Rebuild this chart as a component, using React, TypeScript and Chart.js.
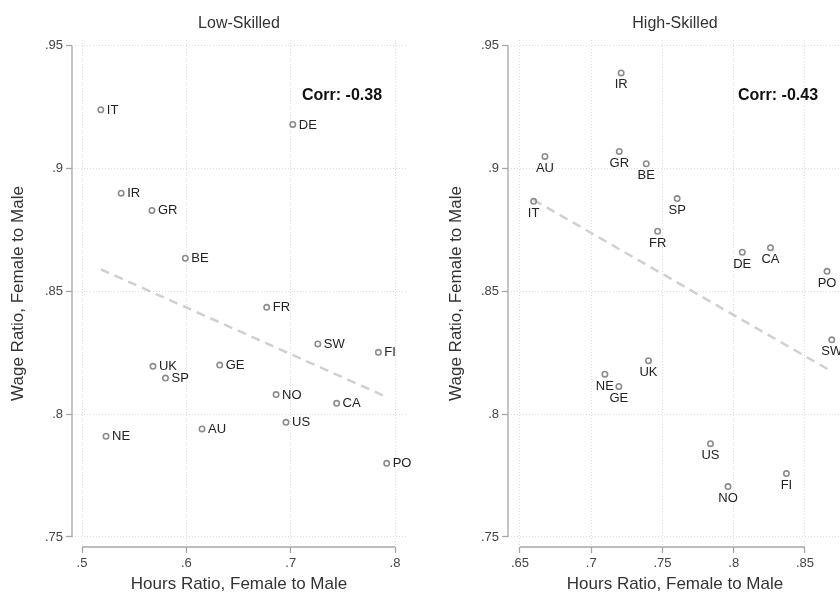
import React, { useEffect, useRef } from 'react';
import { Chart, registerables } from 'chart.js';

Chart.register(...registerables);

// ---------- data ----------
const lowCountries = ['IT', 'DE', 'IR', 'GR', 'BE', 'FR', 'SW', 'FI', 'UK', 'GE', 'SP', 'NO', 'CA', 'US', 'AU', 'NE', 'PO'];
const lowHours = [0.518, 0.702, 0.5375, 0.567, 0.599, 0.677, 0.726, 0.784, 0.568, 0.632, 0.58, 0.686, 0.744, 0.6955, 0.615, 0.523, 0.792];
const lowWage = [0.924, 0.918, 0.89, 0.883, 0.8635, 0.8435, 0.8286, 0.8252, 0.8195, 0.82, 0.8147, 0.808, 0.8044, 0.7967, 0.794, 0.791, 0.78];
const lowFitHours = [0.518, 0.792];
const lowFitWage = [0.859, 0.807];
const lowCorr = 'Corr: -0.38';

const highCountries = ['IR', 'AU', 'GR', 'BE', 'IT', 'SP', 'FR', 'DE', 'CA', 'PO', 'SW', 'UK', 'NE', 'GE', 'US', 'NO', 'FI'];
const highHours = [0.721, 0.6675, 0.7197, 0.7386, 0.6596, 0.7603, 0.7466, 0.806, 0.8258, 0.8655, 0.8688, 0.7402, 0.7096, 0.7194, 0.7837, 0.796, 0.837];
const highWage = [0.939, 0.905, 0.907, 0.902, 0.8867, 0.8878, 0.8745, 0.866, 0.8678, 0.8582, 0.8303, 0.8218, 0.8163, 0.8113, 0.788, 0.7705, 0.7758];
const highFitHours = [0.6596, 0.8688];
const highFitWage = [0.8873, 0.8174];
const highCorr = 'Corr: -0.43';

const yTicks = [0.75, 0.8, 0.85, 0.9, 0.95];
const yTickLabels = ['.75', '.8', '.85', '.9', '.95'];
const lowXTicks = [0.5, 0.6, 0.7, 0.8];
const lowXTickLabels = ['.5', '.6', '.7', '.8'];
const highXTicks = [0.65, 0.7, 0.75, 0.8, 0.85];
const highXTickLabels = ['.65', '.7', '.75', '.8', '.85'];

const yTitle = 'Wage Ratio, Female to Male';
const xTitle = 'Hours Ratio, Female to Male';

// ---------- styling ----------
const FONT = '"Liberation Sans", Arial, Helvetica, sans-serif';
const CANVAS_H = 593;

type Panel = {
  title: string;
  countries: string[];
  hours: number[];
  wage: number[];
  fitHours: number[];
  fitWage: number[];
  corr: string;
  xTicks: number[];
  xTickLabels: string[];
  xMin: number;
  xMax: number;
  yAxisWidth: number;
  yTitlePad: number;
  padRight: number;
  labelBelow: boolean;
};

const panels: { left: number; width: number; p: Panel }[] = [
  {
    left: 0,
    width: 420,
    p: {
      title: 'Low-Skilled',
      countries: lowCountries,
      hours: lowHours,
      wage: lowWage,
      fitHours: lowFitHours,
      fitWage: lowFitWage,
      corr: lowCorr,
      xTicks: lowXTicks,
      xTickLabels: lowXTickLabels,
      xMin: 0.4904,
      xMax: 0.8105,
      yAxisWidth: 72,
      yTitlePad: 10,
      padRight: 14,
      labelBelow: false,
    },
  },
  {
    left: 420,
    width: 430,
    p: {
      title: 'High-Skilled',
      countries: highCountries,
      hours: highHours,
      wage: highWage,
      fitHours: highFitHours,
      fitWage: highFitWage,
      corr: highCorr,
      xTicks: highXTicks,
      xTickLabels: highXTickLabels,
      xMin: 0.6416,
      xMax: 0.876,
      yAxisWidth: 88,
      yTitlePad: 28,
      padRight: 8,
      labelBelow: true,
    },
  },
];

function makeConfig(p: Panel): any {
  const overlay = {
    id: 'overlay',
    beforeDatasetsDraw(chart: any) {
      const ctx = chart.ctx;
      const xs = chart.scales.x;
      const ys = chart.scales.y;
      const area = chart.chartArea;
      ctx.save();
      ctx.strokeStyle = '#a6a6a6';
      ctx.lineWidth = 1.3;
      ctx.beginPath();
      ctx.moveTo(area.left, ys.getPixelForValue(yTicks[yTicks.length - 1]));
      ctx.lineTo(area.left, ys.getPixelForValue(yTicks[0]));
      ctx.moveTo(xs.getPixelForValue(p.xTicks[0]), area.bottom);
      ctx.lineTo(xs.getPixelForValue(p.xTicks[p.xTicks.length - 1]), area.bottom);
      ctx.stroke();
      ctx.restore();
    },
    afterDatasetsDraw(chart: any) {
      const ctx = chart.ctx;
      const meta = chart.getDatasetMeta(0);
      const area = chart.chartArea;
      ctx.save();
      ctx.fillStyle = '#222';
      ctx.font = '13px ' + FONT;
      meta.data.forEach((pt: any, i: number) => {
        if (p.labelBelow) {
          ctx.textAlign = 'center';
          ctx.textBaseline = 'middle';
          ctx.fillText(p.countries[i], pt.x, pt.y + 12);
        } else {
          ctx.textAlign = 'left';
          ctx.textBaseline = 'middle';
          ctx.fillText(p.countries[i], pt.x + 6, pt.y + 0.5);
        }
      });
      ctx.fillStyle = '#111';
      ctx.font = 'bold 16px ' + FONT;
      ctx.textAlign = 'left';
      ctx.textBaseline = 'middle';
      ctx.fillText(p.corr, area.left + 230, area.top + 56);
      ctx.restore();
    },
  };

  const gridOpts = {
    color: '#dcdcdc',
    lineWidth: 1,
    drawTicks: true,
    tickLength: 6,
    tickColor: '#a6a6a6',
    tickWidth: 1.3,
    tickBorderDash: [],
  };

  return {
    type: 'scatter',
    data: {
      datasets: [
        {
          label: 'countries',
          data: p.hours.map((h, i) => ({ x: h, y: p.wage[i] })),
          pointRadius: 2.7,
          pointHoverRadius: 2.7,
          pointBorderWidth: 1.6,
          borderColor: '#8c8c8c',
          backgroundColor: 'rgba(255,255,255,0)',
        },
        {
          label: 'fit',
          data: p.fitHours.map((h, i) => ({ x: h, y: p.fitWage[i] })),
          showLine: true,
          borderColor: '#d0d0d0',
          borderWidth: 2.5,
          borderDash: [9, 6],
          pointRadius: 0,
          pointHoverRadius: 0,
          fill: false,
        },
      ],
    },
    options: {
      animation: false,
      responsive: false,
      events: [],
      layout: { padding: { left: 0, right: p.padRight, top: 0, bottom: 0 } },
      plugins: {
        legend: { display: false },
        tooltip: { enabled: false },
        title: {
          display: true,
          text: p.title,
          fullSize: false,
          color: '#333',
          font: { family: FONT, size: 16, weight: 'normal', lineHeight: 1.2 },
          padding: { top: 14, bottom: 6.8 },
        },
      },
      scales: {
        x: {
          type: 'linear',
          min: p.xMin,
          max: p.xMax,
          afterBuildTicks: (axis: any) => {
            axis.ticks = p.xTicks.map((v) => ({ value: v }));
          },
          afterFit: (scale: any) => {
            scale.height = 46;
          },
          ticks: {
            autoSkip: false,
            maxRotation: 0,
            padding: 3,
            color: '#444',
            font: { family: FONT, size: 13 },
            callback: (_v: any, i: number) => p.xTickLabels[i],
          },
          grid: gridOpts,
          border: { display: false, dash: [1, 2] },
          title: {
            display: true,
            text: xTitle,
            color: '#333',
            font: { family: FONT, size: 17, lineHeight: 1 },
            padding: { top: 0, bottom: 0 },
          },
        },
        y: {
          type: 'linear',
          min: 0.7459,
          max: 0.9524,
          afterBuildTicks: (axis: any) => {
            axis.ticks = yTicks.map((v) => ({ value: v }));
          },
          afterFit: (scale: any) => {
            scale.width = p.yAxisWidth;
          },
          ticks: {
            autoSkip: false,
            padding: 3,
            color: '#444',
            font: { family: FONT, size: 13 },
            callback: (_v: any, i: number) => yTickLabels[i],
          },
          grid: gridOpts,
          border: { display: false, dash: [1, 2] },
          title: {
            display: true,
            text: yTitle,
            color: '#333',
            font: { family: FONT, size: 17, lineHeight: 1 },
            padding: { top: p.yTitlePad, bottom: 0 },
          },
        },
      },
    },
    plugins: [overlay],
  };
}

function PanelChart({ p, left, width }: { p: Panel; left: number; width: number }) {
  const ref = useRef<HTMLCanvasElement | null>(null);
  useEffect(() => {
    if (!ref.current) return;
    const chart = new Chart(ref.current, makeConfig(p));
    return () => chart.destroy();
  }, [p]);
  return (
    <canvas
      ref={ref}
      width={width}
      height={CANVAS_H}
      style={{ position: 'absolute', left, top: 0, width, height: CANVAS_H }}
    />
  );
}

export default function App() {
  return (
    <div
      style={{
        position: 'absolute',
        left: 0,
        top: 0,
        width: 840,
        height: CANVAS_H,
        overflow: 'hidden',
        background: '#fff',
      }}
    >
      {panels.map((pn, i) => (
        <PanelChart key={i} p={pn.p} left={pn.left} width={pn.width} />
      ))}
    </div>
  );
}
